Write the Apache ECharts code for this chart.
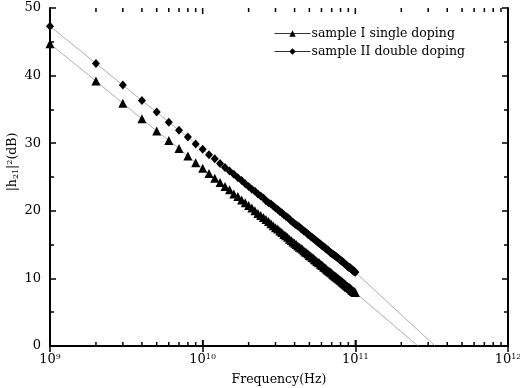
<!DOCTYPE html>
<html><head><meta charset="utf-8">
<script src="https://cdn.jsdelivr.net/npm/echarts@6/dist/echarts.min.js"></script>
<style>html,body{margin:0;padding:0;background:#fff}#c{width:520px;height:388px}</style>
</head><body><div id="c"></div>
<script>
// Frequencies in GHz
const freqGHz = [1,2,3,4,5,6,7,8,9,10,11,12,13,14,15,16,17,18,19,20,21,22,23,24,25,26,27,28,29,30,31,32,33,34,35,36,37,38,39,40,41,42,43,44,45,46,47,48,49,50,51,52,53,54,55,56,57,58,59,60,61,62,63,64,65,66,67,68,69,70,71,72,73,74,75,76,77,78,79,80,81,82,83,84,85,86,87,88,89,90,91,92,93,94,95,96,97,98,99,100];
// |h21|^2 (dB), sample I single doping
const sampleI = [44.7,39.2,35.9,33.6,31.8,30.4,29.2,28.1,27.1,26.3,25.5,24.8,24.2,23.6,23.1,22.5,22.1,21.6,21.2,20.8,20.4,20.0,19.6,19.3,19.0,18.7,18.4,18.1,17.8,17.5,17.3,17.0,16.8,16.5,16.3,16.1,15.8,15.6,15.4,15.2,15.0,14.8,14.6,14.5,14.3,14.1,13.9,13.8,13.6,13.4,13.3,13.1,13.0,12.8,12.7,12.5,12.4,12.3,12.1,12.0,11.9,11.7,11.6,11.5,11.3,11.2,11.1,11.0,10.9,10.8,10.6,10.5,10.4,10.3,10.2,10.1,10.0,9.9,9.8,9.7,9.6,9.5,9.4,9.3,9.2,9.1,9.0,8.9,8.8,8.7,8.7,8.6,8.5,8.4,8.3,8.2,8.1,8.1,8.0,7.9];
// |h21|^2 (dB), sample II double doping
const sampleII = [47.3,41.8,38.6,36.3,34.6,33.1,31.9,30.9,29.9,29.1,28.3,27.7,27.0,26.4,25.9,25.4,24.9,24.5,24.0,23.6,23.2,22.9,22.5,22.2,21.9,21.5,21.2,21.0,20.7,20.4,20.2,19.9,19.7,19.4,19.2,19.0,18.8,18.5,18.3,18.1,17.9,17.8,17.6,17.4,17.2,17.0,16.9,16.7,16.5,16.4,16.2,16.1,15.9,15.8,15.6,15.5,15.3,15.2,15.1,14.9,14.8,14.7,14.6,14.4,14.3,14.2,14.1,13.9,13.8,13.7,13.6,13.5,13.4,13.3,13.2,13.1,13.0,12.9,12.8,12.7,12.6,12.5,12.4,12.3,12.2,12.1,12.0,11.9,11.8,11.7,11.6,11.6,11.5,11.4,11.3,11.2,11.1,11.1,11.0,10.9];
// extrapolated fit lines beyond the data (GHz, dB)
const extI = [[100,7.9],[257,0]];
const extII = [[100,10.9],[333,0]];
const seriesNames = ['sample I single doping','sample II double doping'];
// x axis decade exponents (tick labels 10^9 ... 10^12)
const xDecades = [9,10,11,12];
const yMin = 0, yMax = 50, yStep = 10;

const FONT = 'DejaVu Serif';
const xMin = Math.pow(10, xDecades[0]), xMax = Math.pow(10, xDecades[xDecades.length - 1]);
// x tick values in Hz: [value, tick length]
const xTickData = [];
for (let i = 0; i < xDecades.length; i++) {
  const d = Math.pow(10, xDecades[i]);
  xTickData.push([d, 6]);
  if (i < xDecades.length - 1) for (let k = 2; k <= 9; k++) xTickData.push([k * d, 4]);
}

const toHz = (arr) => arr.map(p => [p[0] * 1e9, p[1]]);
const dataI = freqGHz.map((f, i) => [f * 1e9, sampleI[i]]);
const dataII = freqGHz.map((f, i) => [f * 1e9, sampleII[i]]);

const axisLine = {show: true, lineStyle: {color: '#000', width: 2}};
const majorTick = {show: true, inside: true, length: 6, lineStyle: {color: '#000', width: 1.5}};
function yAxisDef(pos, labels) {
  return {
    type: 'value', min: yMin, max: yMax, interval: yStep, position: pos,
    axisLine: axisLine, splitLine: {show: false},
    axisTick: majorTick,
    minorTick: {show: true, splitNumber: 2, length: 4, lineStyle: {color: '#000', width: 1.5}},
    axisLabel: labels ? {show: true, margin: 9, fontFamily: FONT, fontSize: 13, color: '#000'} : {show: false},
    name: labels ? '|h{sub|21}|{sup|2}(dB)' : '', nameLocation: 'middle', nameGap: 30, nameMoveOverlap: false,
    nameTextStyle: {
      fontFamily: FONT, fontSize: 12.5, color: '#000', padding: [0, 0, 0, 30],
      rich: {sub: {fontSize: 8, fontFamily: FONT, verticalAlign: 'bottom', padding: [6, 0, 0, 0]},
             sup: {fontSize: 8, fontFamily: FONT, verticalAlign: 'top', padding: [0, 0, 6, 0]}}
    }
  };
}

const lineCol = '#8a8a8a';
const chart = echarts.init(document.getElementById('c'), null, {renderer: 'canvas'});
chart.setOption({
  animation: false,
  backgroundColor: '#fff',
  grid: {left: 50, right: 12, top: 8, bottom: 42, containLabel: false, outerBoundsMode: 'none'},
  xAxis: [
    {type: 'log', logBase: 10, min: xMin, max: xMax, position: 'bottom',
     axisLine: axisLine, splitLine: {show: false}, axisTick: majorTick, minorTick: {show: false},
     axisLabel: {show: true, margin: 7, fontFamily: FONT, fontSize: 13, color: '#000',
       formatter: v => '10{s|' + Math.round(Math.log10(v)) + '}',
       rich: {s: {fontSize: 8, fontFamily: FONT, verticalAlign: 'top', padding: [0, 0, 6, 0]}}},
     name: 'Frequency(Hz)', nameLocation: 'middle', nameGap: 27, nameMoveOverlap: false,
     nameTextStyle: {fontFamily: FONT, fontSize: 12.5, color: '#000'}},
    {type: 'log', logBase: 10, min: xMin, max: xMax, position: 'top',
     axisLine: axisLine, splitLine: {show: false}, axisTick: majorTick, minorTick: {show: false},
     axisLabel: {show: false}}
  ],
  yAxis: [yAxisDef('left', true), yAxisDef('right', false)],
  legend: {
    orient: 'vertical', left: 269, top: 22, itemWidth: 36, itemHeight: 8, itemGap: 5,
    textStyle: {fontFamily: FONT, fontSize: 12.5, color: '#000', padding: [0, 0, 0, -4]},
    lineStyle: {color: '#333', width: 1},
    data: seriesNames
  },
  series: [
    {type: 'custom', data: xTickData, clip: false, z: 5,
     renderItem: (params, api) => {
       const x = api.value(0), len = api.value(1);
       const b = api.coord([x, yMin]), t = api.coord([x, yMax]);
       const st = {stroke: '#000', lineWidth: 1.5};
       return {type: 'group', children: [
         {type: 'line', shape: {x1: b[0], y1: b[1], x2: b[0], y2: b[1] - len}, style: st},
         {type: 'line', shape: {x1: t[0], y1: t[1], x2: t[0], y2: t[1] + len}, style: st}
       ]};
     }},
    {name: seriesNames[0], type: 'line', data: dataI,
     symbol: 'triangle', symbolSize: 9, showAllSymbol: true,
     itemStyle: {color: '#000'}, lineStyle: {color: lineCol, width: 0.7}, z: 3},
    {name: seriesNames[1], type: 'line', data: dataII,
     symbol: 'diamond', symbolSize: [8, 9], showAllSymbol: true,
     itemStyle: {color: '#000'}, lineStyle: {color: lineCol, width: 0.7}, z: 3},
    {type: 'line', data: toHz(extI), symbol: 'none',
     lineStyle: {color: lineCol, width: 0.7}, z: 2, silent: true},
    {type: 'line', data: toHz(extII), symbol: 'none',
     lineStyle: {color: lineCol, width: 0.7}, z: 2, silent: true}
  ]
});
</script></body></html>
